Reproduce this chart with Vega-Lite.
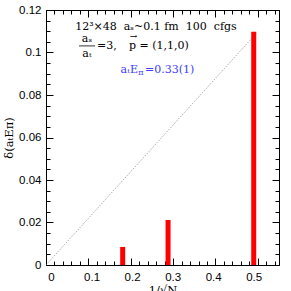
{
  "$schema": "https://vega.github.io/schema/vega-lite/v6.json",
  "width": 233,
  "height": 255,
  "autosize": {"type": "pad"},
  "padding": {"left": 3, "top": 4, "right": 9, "bottom": 0},
  "background": "white",
  "config": {
    "view": {"stroke": "black", "strokeWidth": 1},
    "axis": {
      "labelFont": "Liberation Sans",
      "labelFontSize": 11.5,
      "labelColor": "black",
      "titleColor": "black",
      "titleFont": "DejaVu Serif",
      "titleFontSize": 11.5,
      "titleFontWeight": "normal"
    },
    "text": {"font": "DejaVu Serif", "fontSize": 11}
  },
  "datasets": {
    "bars": [
      {"inv_sqrt_n": 0.1768, "delta": 0.0085},
      {"inv_sqrt_n": 0.2887, "delta": 0.0212},
      {"inv_sqrt_n": 0.5, "delta": 0.1098}
    ],
    "diag": [{"x": 0, "y": 0, "x2": 0.5, "y2": 0.1098}],
    "head": [{"x": 0.2595, "y": 0.112, "t": "12³×48\u00a0\u00a0aₛ~0.1\u00a0fm\u00a0\u00a0100\u00a0\u00a0cfgs"}],
    "frac": [
      {"x": 0.0967, "y": 0.1064, "t": "aₛ"},
      {"x": 0.0967, "y": 0.0995, "t": "aₜ"}
    ],
    "fracbar": [{"x": 0.078, "x2": 0.1156, "y": 0.1031}],
    "line2": [
      {"x": 0.1203, "y": 0.1031, "t": "=3,"},
      {"x": 0.1958, "y": 0.1031, "t": "p\u00a0=\u00a0(1,1,0)"}
    ],
    "arrow": [{"x": 0.2065, "y": 0.1078, "t": "→"}],
    "blue1": [{"x": 0.217, "y": 0.0918, "t": "aₜE"}],
    "blue2": [{"x": 0.2175, "y": 0.0903, "t": "π"}],
    "blue3": [{"x": 0.2335, "y": 0.0918, "t": "=0.33(1)"}]
  },
  "layer": [
    {
      "data": {"name": "diag"},
      "mark": {"type": "rule", "color": "#777777", "strokeWidth": 0.8, "strokeDash": [1, 1.5]},
      "encoding": {
        "x": {"field": "x", "type": "quantitative", "scale": {"domain": [0, 0.55], "nice": false}, "axis": {"orient": "top", "grid": false, "domain": false, "tickCount": 6, "labels": false, "tickColor": "black", "tickWidth": 1, "tickSize": 7, "offset": -7, "title": null}},
        "y": {"field": "y", "type": "quantitative", "scale": {"domain": [0, 0.12], "nice": false}, "axis": {"orient": "right", "grid": false, "domain": false, "tickCount": 7, "labels": false, "tickColor": "black", "tickWidth": 1, "tickSize": 7, "offset": -7, "title": null}},
        "x2": {"field": "x2"},
        "y2": {"field": "y2"}
      }
    },
    {
      "data": {"name": "head"},
      "mark": {"type": "text", "align": "center", "baseline": "middle", "color": "black"},
      "encoding": {
        "x": {"field": "x", "type": "quantitative", "scale": {"domain": [0, 0.55], "nice": false}, "axis": {"orient": "bottom", "grid": false, "domain": false, "tickCount": 6, "labels": false, "tickColor": "black", "tickWidth": 1, "tickSize": 7, "offset": -7, "title": null}},
        "y": {"field": "y", "type": "quantitative", "scale": {"domain": [0, 0.12], "nice": false}, "axis": {"orient": "left", "grid": false, "domain": false, "tickCount": 7, "labels": false, "tickColor": "black", "tickWidth": 1, "tickSize": 7, "offset": -7, "title": null}},
        "text": {"field": "t"}
      }
    },
    {
      "data": {"name": "frac"},
      "mark": {"type": "text", "align": "center", "baseline": "middle", "color": "black"},
      "encoding": {
        "x": {"field": "x", "type": "quantitative", "scale": {"domain": [0, 0.55], "nice": false}, "axis": {"orient": "top", "grid": false, "domain": false, "tickCount": 28, "labels": false, "tickColor": "black", "tickWidth": 1, "tickSize": 4, "offset": -4, "title": null}},
        "y": {"field": "y", "type": "quantitative", "scale": {"domain": [0, 0.12], "nice": false}, "axis": {"orient": "right", "grid": false, "domain": false, "tickCount": 25, "labels": false, "tickColor": "black", "tickWidth": 1, "tickSize": 4, "offset": -4, "title": null}},
        "text": {"field": "t"}
      }
    },
    {
      "data": {"name": "line2"},
      "mark": {"type": "text", "align": "left", "baseline": "middle", "color": "black"},
      "encoding": {
        "x": {"field": "x", "type": "quantitative", "scale": {"domain": [0, 0.55], "nice": false}, "axis": {"orient": "bottom", "grid": false, "domain": false, "tickCount": 28, "labels": false, "tickColor": "black", "tickWidth": 1, "tickSize": 4, "offset": -4, "title": null}},
        "y": {"field": "y", "type": "quantitative", "scale": {"domain": [0, 0.12], "nice": false}, "axis": {"orient": "left", "grid": false, "domain": false, "tickCount": 25, "labels": false, "tickColor": "black", "tickWidth": 1, "tickSize": 4, "offset": -4, "title": null}},
        "text": {"field": "t"}
      }
    },
    {
      "data": {"name": "bars"},
      "mark": {"type": "bar", "color": "#ff0000", "size": 5},
      "encoding": {
        "x": {
          "field": "inv_sqrt_n", "type": "quantitative",
          "scale": {"domain": [0, 0.55], "nice": false},
          "axis": {"orient": "bottom", "grid": false, "domain": false, "values": [0, 0.1, 0.2, 0.3, 0.4, 0.5], "format": ".2~f", "tickSize": 0, "labelPadding": 6, "title": "1/√N", "titlePadding": 2}
        },
        "y": {
          "field": "delta", "type": "quantitative",
          "scale": {"domain": [0, 0.12], "nice": false},
          "axis": {"orient": "left", "grid": false, "domain": false, "values": [0, 0.02, 0.04, 0.06, 0.08, 0.1, 0.12], "format": ".2~f", "tickSize": 0, "labelPadding": 5, "title": "δ(aₜEπ)", "titlePadding": 4}
        }
      }
    },
    {
      "data": {"name": "fracbar"},
      "mark": {"type": "rule", "color": "black", "strokeWidth": 0.8},
      "encoding": {
        "x": {"field": "x", "type": "quantitative", "scale": {"domain": [0, 0.55], "nice": false}, "axis": null},
        "x2": {"field": "x2"},
        "y": {"field": "y", "type": "quantitative", "scale": {"domain": [0, 0.12], "nice": false}, "axis": null}
      }
    },
    {
      "data": {"name": "arrow"},
      "mark": {"type": "text", "align": "center", "baseline": "middle", "color": "black", "fontSize": 9},
      "encoding": {
        "x": {"field": "x", "type": "quantitative", "scale": {"domain": [0, 0.55], "nice": false}, "axis": null},
        "y": {"field": "y", "type": "quantitative", "scale": {"domain": [0, 0.12], "nice": false}, "axis": null},
        "text": {"field": "t"}
      }
    },
    {
      "data": {"name": "blue1"},
      "mark": {"type": "text", "align": "right", "baseline": "middle", "color": "#3c3cff"},
      "encoding": {
        "x": {"field": "x", "type": "quantitative", "scale": {"domain": [0, 0.55], "nice": false}, "axis": null},
        "y": {"field": "y", "type": "quantitative", "scale": {"domain": [0, 0.12], "nice": false}, "axis": null},
        "text": {"field": "t"}
      }
    },
    {
      "data": {"name": "blue2"},
      "mark": {"type": "text", "align": "left", "baseline": "middle", "color": "#3c3cff", "fontSize": 8},
      "encoding": {
        "x": {"field": "x", "type": "quantitative", "scale": {"domain": [0, 0.55], "nice": false}, "axis": null},
        "y": {"field": "y", "type": "quantitative", "scale": {"domain": [0, 0.12], "nice": false}, "axis": null},
        "text": {"field": "t"}
      }
    },
    {
      "data": {"name": "blue3"},
      "mark": {"type": "text", "align": "left", "baseline": "middle", "color": "#3c3cff"},
      "encoding": {
        "x": {"field": "x", "type": "quantitative", "scale": {"domain": [0, 0.55], "nice": false}, "axis": null},
        "y": {"field": "y", "type": "quantitative", "scale": {"domain": [0, 0.12], "nice": false}, "axis": null},
        "text": {"field": "t"}
      }
    }
  ],
  "resolve": {"scale": {"x": "independent", "y": "independent"}, "axis": {"x": "independent", "y": "independent"}}
}
